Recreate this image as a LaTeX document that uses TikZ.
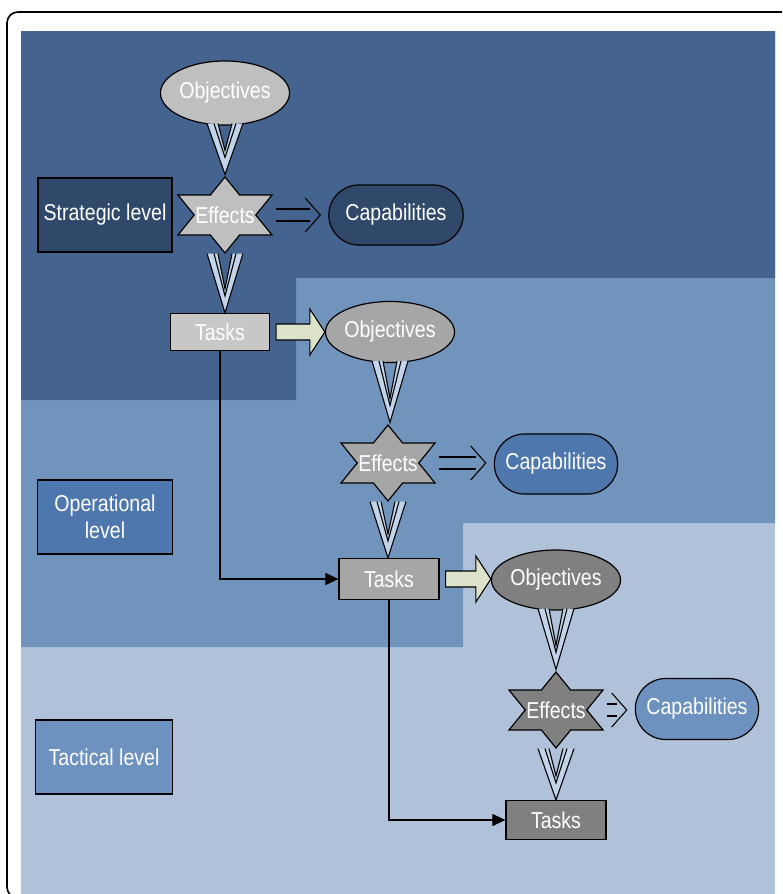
\documentclass[tikz,border=0pt]{standalone}
\usepackage{fontspec}
\setmainfont{Liberation Sans}[FakeStretch=0.85]
\usetikzlibrary{calc,shapes.geometric,shapes.misc,arrows.meta}

\definecolor{stratbg}{HTML}{44648F}
\definecolor{operbg}{HTML}{7194BD}
\definecolor{tactbg}{HTML}{B0C2DA}
\definecolor{stratbox}{HTML}{30496B}
\definecolor{operbox}{HTML}{4E77AE}
\definecolor{tactbox}{HTML}{6D92BF}
\definecolor{chevblue}{HTML}{C2D4EA}
\definecolor{blockfill}{HTML}{DDE3CB}

% six pointed star, stretched sideways
\newcommand\hexstar[3]{%
	\draw[line width=1.2pt, fill=#3, shift={(#1,#2)}]
		(0,-38) -- (14.6,-20) -- (47,-20) -- (30.8,0) -- (47,20) -- (14.6,20) -- (0,38)
		-- (-14.6,20) -- (-47,20) -- (-30.8,0) -- (-47,-20) -- (-14.6,-20) -- cycle;
}
% triple chevron from one node down to the next
\newcommand\chevarrow[2]{%
	\coordinate (cs) at ($(#1.south)+(0,-2)$);
	\coordinate (ct) at (#1.south |- #2.north);
	\fill[chevblue] ($(cs)+(-18,0)$) -- (ct) -- ($(cs)+(18,0)$) -- ($(cs)+(7,0)$) -- ($(ct)+(0,-24)$) -- ($(cs)+(-7,0)$) -- cycle;
	\draw[thinline] ($(cs)+(-18,0)$) -- (ct) -- ($(cs)+(18,0)$);
	\draw[thinline] ($(cs)+(-11,0)$) -- ($(ct)+(0,-17)$) -- ($(cs)+(11,0)$);
	\draw[thinline] ($(cs)+(-7,0)$) -- ($(ct)+(0,-24)$) -- ($(cs)+(7,0)$);
}
% open double arrow to the right
\newcommand\dblarrow[2]{%
	\coordinate (ds) at (#1.east);
	\coordinate (dt) at ($(#2.west |- #1.east)+(-8,0)$);
	\draw[thinline] ($(ds)+(1,-6)$) -- ($(dt)+(-10,-6)$);
	\draw[thinline] ($(ds)+(1,6)$) -- ($(dt)+(-10,6)$);
	\draw[thinline] ($(dt)+(-15,-17)$) -- (dt) -- ($(dt)+(-15,17)$);
}
% block arrow to the right
\newcommand\blockarrow[2]{%
	\coordinate (bs) at ($(#1.east)+(6,0)$);
	\coordinate (bt) at (#2.west |- #1.east);
	\filldraw[thinline, fill=blockfill] ($(bs)+(0,-8)$) -- ($(bt)+(-15,-8)$) -- ($(bt)+(-15,-23)$) -- (bt) -- ($(bt)+(-15,23)$) -- ($(bt)+(-15,8)$) -- ($(bs)+(0,8)$) -- cycle;
}

\begin{document}
\begin{tikzpicture}[x=1pt, y=-1pt,
	thinline/.style={line width=1.1pt},
	every node/.style={font=\fontsize{23}{27}\selectfont, text=white, line width=1.2pt},
	obj/.style={ellipse, draw, fill=#1, inner sep=0pt},
	capab/.style={rounded rectangle, draw, fill=#1, minimum width=130, minimum height=60},
	lvl/.style={rectangle, draw, fill=#1, minimum width=135, minimum height=74, align=center},
	task/.style={rectangle, draw, fill=#1, minimum width=100, minimum height=39},
	eff/.style={rectangle, minimum width=98, minimum height=80, inner sep=0pt}]
		%%%%% START %%%%%
		\useasboundingbox (0,0) rectangle (782,894);
		\clip (0,0) rectangle (782,894);
		\fill[white] (0,0) rectangle (782,894);
		\draw[line width=1.6pt, rounded corners=11pt] (7,12) rectangle (800,898);
		
		% levels
		\fill[tactbg] (21,31) rectangle (775,894);
		\fill[operbg] (21,31) -- (775,31) -- (775,523) -- (463,523) -- (463,647) -- (21,647) -- cycle;
		\fill[stratbg] (21,31) -- (775,31) -- (775,278) -- (296,278) -- (296,400) -- (21,400) -- cycle;
		
		% strategic
		\node[obj=black!25, minimum width=114, minimum height=64] (obj1) at (225,93) {Objectives};
		\hexstar{225}{215}{black!25}
		\node[eff] (eff1) at (225,215) {Effects};
		\node[capab=stratbox, minimum width=141] (cap1) at (396,215) {Capabilities};
		\node[lvl=stratbox, minimum width=134] (lvl1) at (105,215) {Strategic level};
		\node[task=black!22, minimum width=99, minimum height=37] (task1) at (220,332) {Tasks};
		
		% operational
		\node[obj=black!35, minimum width=117, minimum height=61] (obj2) at (390,332) {Objectives};
		\hexstar{388}{463}{black!35}
		\node[eff] (eff2) at (388,463) {Effects};
		\node[capab=operbox] (cap2) at (556,464) {Capabilities};
		\node[lvl=operbox] (lvl2) at (105,517) {Operational\\level};
		\node[task=black!35, minimum height=41] (task2) at (389,579) {Tasks};
		
		% tactical
		\node[obj=black!50, minimum width=127, minimum height=60] (obj3) at (556,580) {Objectives};
		\hexstar{556}{710}{black!50}
		\node[eff] (eff3) at (556,710) {Effects};
		\node[capab=tactbox, minimum height=61] (cap3) at (697,709) {Capabilities};
		\node[lvl=tactbox, minimum width=137] (lvl3) at (104,757) {Tactical level};
		\node[task=black!50] (task3) at (556,820) {Tasks};
		
		\chevarrow{obj1}{eff1}
		\chevarrow{eff1}{task1}
		\chevarrow{obj2}{eff2}
		\chevarrow{eff2}{task2}
		\chevarrow{obj3}{eff3}
		\chevarrow{eff3}{task3}
		
		\dblarrow{eff1}{cap1}
		\dblarrow{eff2}{cap2}
		\dblarrow{eff3}{cap3}
		
		\blockarrow{task1}{obj2}
		\blockarrow{task2}{obj3}
		
		\draw[thinline, -{Triangle[length=13pt, width=12pt]}] (task1.south) |- (task2.west);
		\draw[thinline, -{Triangle[length=13pt, width=12pt]}] (task2.south) |- (task3.west);
		%%%%% END %%%%%
\end{tikzpicture}
\end{document}
